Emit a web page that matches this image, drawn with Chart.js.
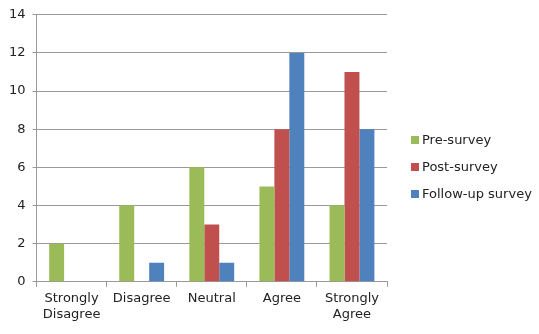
<!DOCTYPE html>
<html><head><meta charset="utf-8">
<script src="https://cdn.jsdelivr.net/npm/chart.js@4/dist/chart.umd.min.js"></script>
<style>html,body{margin:0;padding:0;background:#fff;}#wrap{width:539px;height:334px;}</style>
</head><body><div id="wrap"><canvas id="c" width="539" height="334"></canvas></div>
<script>
const categories = [["Strongly","Disagree"], "Disagree", "Neutral", "Agree", ["Strongly","Agree"]];
const seriesNames = ["Pre-survey", "Post-survey", "Follow-up survey"];
const preSurvey = [2, 4, 6, 5, 4];
const postSurvey = [0, 0, 3, 8, 11];
const followUp = [0, 1, 1, 12, 8];
const yTicks = [0, 2, 4, 6, 8, 10, 12, 14];
const colors = ["#9BBB59", "#C0504D", "#4F81BD"];

Chart.defaults.font.family = "'DejaVu Sans', sans-serif";
Chart.defaults.font.size = 13;
Chart.defaults.color = "#222";

const sideLegend = {
  id: 'sideLegend',
  afterDraw(chart) {
    const ctx = chart.ctx;
    const boxX = 411, textX = 422, firstY = 140, step = 27, box = 8;
    ctx.save();
    ctx.font = "13px 'DejaVu Sans', sans-serif";
    ctx.textBaseline = 'middle';
    ctx.textAlign = 'left';
    chart.data.datasets.forEach((ds, i) => {
      const cy = firstY + i * step;
      ctx.fillStyle = ds.backgroundColor;
      ctx.fillRect(boxX, cy - box / 2, box, box);
      ctx.fillStyle = '#222';
      ctx.fillText(ds.label, textX, cy + 1);
    });
    ctx.restore();
  }
};

new Chart(document.getElementById('c'), {
  type: 'bar',
  data: {
    labels: categories,
    datasets: [preSurvey, postSurvey, followUp].map((d, i) => ({
      label: seriesNames[i], data: d, backgroundColor: colors[i],
      categoryPercentage: 0.64, barPercentage: 1.0, borderWidth: 0
    }))
  },
  options: {
    responsive: false, animation: false,
    layout: { padding: { left: 2, right: 152, top: 2, bottom: 8 } },
    plugins: {
      legend: { display: false },
      tooltip: { enabled: false }
    },
    scales: {
      x: {
        grid: { display: true, drawOnChartArea: false, color: '#999', tickLength: 5, offset: true },
        border: { color: '#999' },
        ticks: { padding: 4, maxRotation: 0, autoSkip: false }
      },
      y: {
        min: 0, max: 14,
        afterBuildTicks: ax => { ax.ticks = yTicks.map(v => ({ value: v })); },
        grid: { color: '#999', tickLength: 4 },
        border: { color: '#999' },
        ticks: { padding: 7 }
      }
    }
  },
  plugins: [sideLegend]
});
</script></body></html>
